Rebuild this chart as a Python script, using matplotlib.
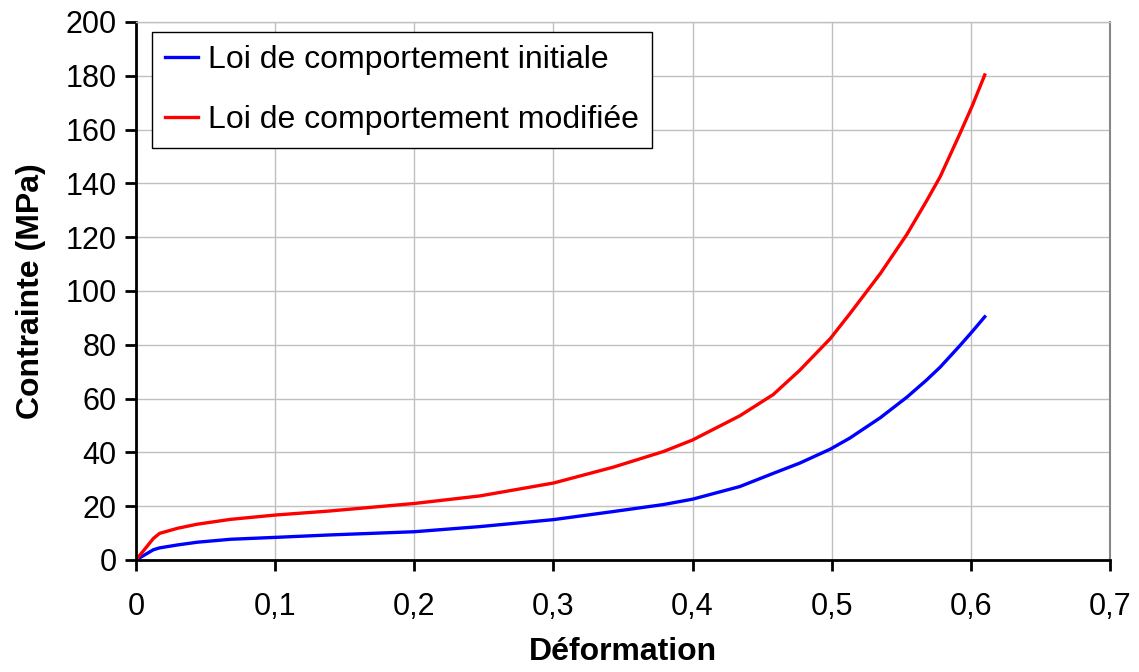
import matplotlib.pyplot as plt

plt.rcParams['font.family'] = ['Liberation Sans', 'DejaVu Sans']

# strain values (Déformation)
strain = [0.0, 0.0125, 0.017, 0.03, 0.044, 0.068, 0.1, 0.139, 0.2, 0.247, 0.3, 0.343, 0.379,
          0.4, 0.434, 0.458, 0.477, 0.499, 0.513, 0.535, 0.554, 0.568, 0.578, 0.592, 0.601, 0.61]
# stress (MPa) for each law
stress_initial = [0.0, 3.8, 4.5, 5.6, 6.6, 7.7, 8.4, 9.3, 10.5, 12.4, 15.0, 18.0, 20.6,
                  22.6, 27.3, 32.2, 36.0, 41.2, 45.3, 52.9, 60.5, 66.8, 71.7, 79.6, 84.9, 90.4]
stress_modified = [0.0, 8.0, 9.9, 11.8, 13.3, 15.1, 16.7, 18.2, 21.0, 23.8, 28.6, 34.5, 40.3,
                   44.6, 53.6, 61.5, 70.5, 82.3, 91.5, 106.5, 121.0, 133.3, 142.5, 158.3, 168.8, 180.3]

x_ticks = [0, 0.1, 0.2, 0.3, 0.4, 0.5, 0.6, 0.7]
x_labels = ['0', '0,1', '0,2', '0,3', '0,4', '0,5', '0,6', '0,7']
y_ticks = list(range(0, 201, 20))

fig = plt.figure(figsize=(11.39, 6.72), dpi=100)
ax = fig.add_axes([0.1194, 0.1667, 0.8551, 0.8006])

ax.plot(strain, stress_initial, color='#0000ff', lw=2.4, label='Loi de comportement initiale')
ax.plot(strain, stress_modified, color='#ff0000', lw=2.4, label='Loi de comportement modifiée')

ax.set_xlim(0, 0.7)
ax.set_ylim(0, 200)
ax.set_xticks(x_ticks)
ax.set_xticklabels(x_labels)
ax.set_yticks(y_ticks)

ax.grid(True, color='#c0c0c0', lw=1)
ax.set_axisbelow(True)

for side in ['left', 'bottom']:
    ax.spines[side].set_color('black')
    ax.spines[side].set_linewidth(2)
ax.spines['right'].set_color('#888888')
ax.spines['right'].set_linewidth(1.5)
ax.spines['top'].set_color('#c0c0c0')
ax.spines['top'].set_linewidth(1)

ax.tick_params(axis='both', which='major', direction='out', width=2, length=8,
               colors='black', labelsize=22, pad=6,
               top=False, right=False)
ax.tick_params(axis='x', pad=15)

ax.set_xlabel('Déformation', fontsize=23, fontweight='bold', labelpad=11)
ax.set_ylabel('Contrainte (MPa)', fontsize=23, fontweight='bold', labelpad=14)

leg = ax.legend(loc='upper left', bbox_to_anchor=(0.0164, 0.981), fontsize=23,
                frameon=True, fancybox=False, handlelength=1.05, handletextpad=0.3,
                borderpad=0.4, labelspacing=0.95, borderaxespad=0)
leg.get_frame().set_edgecolor('black')
leg.get_frame().set_linewidth(1)
leg.get_frame().set_alpha(1)
for line in leg.get_lines():
    line.set_linewidth(2.4)

fig.savefig('out.png', dpi=100)
